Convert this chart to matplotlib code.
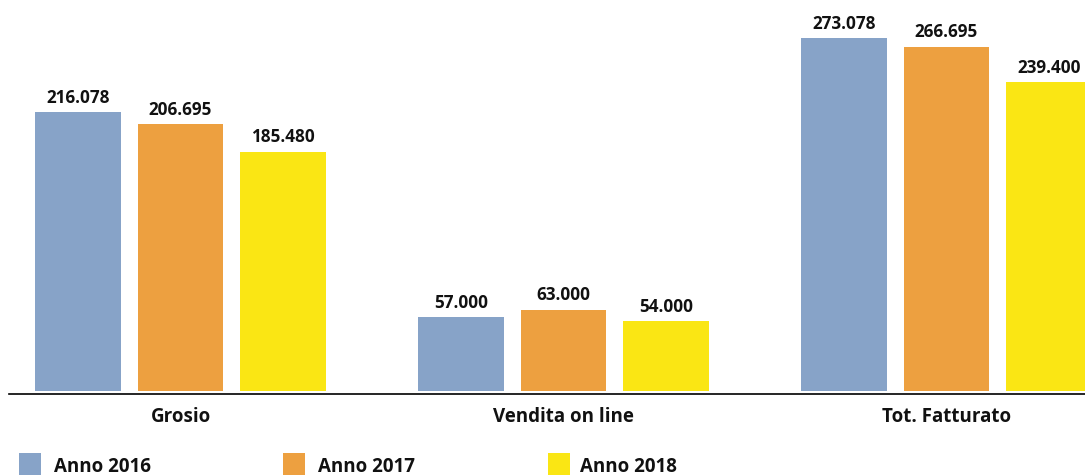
import matplotlib
matplotlib.use("Agg")
import matplotlib.pyplot as plt
from matplotlib.patches import Rectangle
import numpy as np

categories = ["Grosio", "Vendita on line", "Tot. Fatturato"]
series_names = ["Anno 2016", "Anno 2017", "Anno 2018"]
values_2016 = [216078, 57000, 273078]
values_2017 = [206695, 63000, 266695]
values_2018 = [185480, 54000, 239400]
series_values = [values_2016, values_2017, values_2018]
colors = ["#87A3C8", "#EDA040", "#FAE614"]
text_color = "#111111"

plt.rcParams["font.family"] = ["Open Sans", "DejaVu Sans"]
plt.rcParams["font.weight"] = "bold"

W, H = 1085, 475
fig = plt.figure(figsize=(W / 100, H / 100), dpi=100)
base_px = 391.0
ax = fig.add_axes([9 / W, (H - base_px) / H, (W - 9) / W, base_px / H])

x = np.arange(len(categories))
width = 0.2245
offset = 0.2676
wt = "bold"

def fmt(v):
    return f"{v:,}".replace(",", ".")

for i, (vals, col) in enumerate(zip(series_values, colors)):
    xs = x + (i - 1) * offset
    ax.bar(xs, vals, width=width, color=col, edgecolor="none", clip_on=False)
    for xi, v in zip(xs, vals):
        ax.annotate(fmt(v), xy=(xi, v), xytext=(0, 6.7), textcoords="offset points",
                    ha="center", va="baseline", fontsize=12.3, fontweight=wt,
                    color=text_color, annotation_clip=False)

for xi, cat in zip(x, categories):
    ax.annotate(cat, xy=(xi, 0), xycoords=("data", "axes fraction"),
                xytext=(0, -22.1), textcoords="offset points",
                ha="center", va="baseline", fontsize=13.5, fontweight=wt,
                color=text_color, annotation_clip=False)

ax.set_xlim(-0.4478, 2.3616)
ax.set_ylim(0, 302900)
for s in ["top", "right", "left"]:
    ax.spines[s].set_visible(False)
ax.spines["bottom"].set_color("#000000")
ax.spines["bottom"].set_linewidth(1.2)
ax.spines["bottom"].set_position(("outward", 2.5 * 0.72))
ax.set_xticks([])
ax.set_yticks([])
ax.patch.set_alpha(0)

# legend
sq_x = [19, 283, 548]
txt_x = [54, 318, 580]
for name, col, sx, tx in zip(series_names, colors, sq_x, txt_x):
    fig.patches.append(Rectangle((sx / W, 0), 22 / W, 22 / H, transform=fig.transFigure,
                                 facecolor=col, edgecolor="none"))
    fig.text(tx / W, (H - 472) / H, name, ha="left", va="baseline", fontsize=13.5,
             fontweight=wt, color=text_color)

fig.savefig("out.png", dpi=100)
